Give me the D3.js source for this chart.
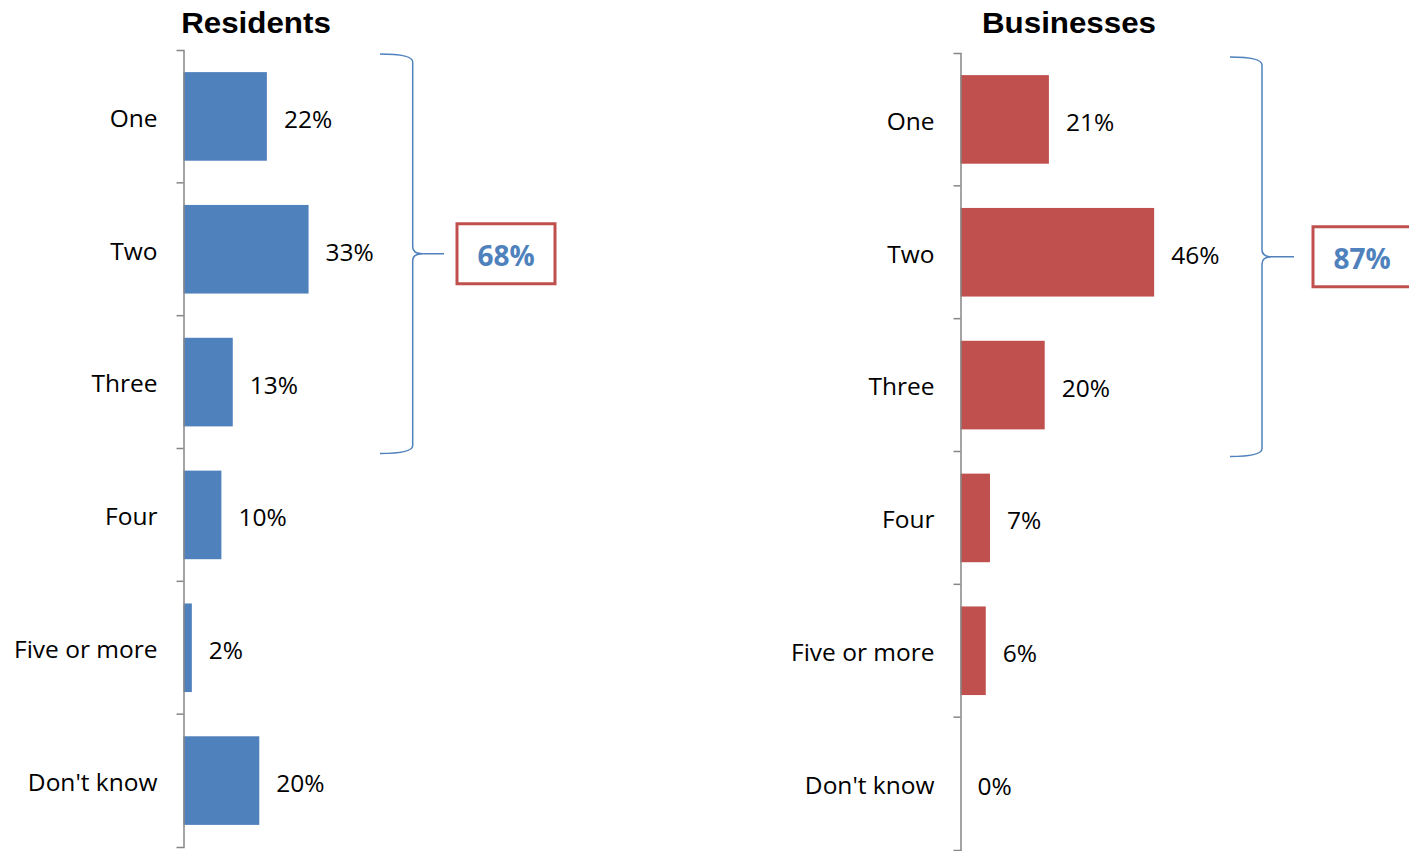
<!DOCTYPE html>
<html>
<head>
<meta charset="utf-8">
<script src="https://cdn.jsdelivr.net/npm/d3@7"></script>
<style>
  html, body { margin: 0; padding: 0; background: #fff; }
  svg { display: block; }
</style>
</head>
<body>
<svg id="chart" width="1409" height="851"></svg>
<script>
// ---- data ----
const categories = ["One", "Two", "Three", "Four", "Five or more", "Don't know"];
const residentsValues = [22, 33, 13, 10, 2.2, 20];
const residentsLabels = ["22%", "33%", "13%", "10%", "2%", "20%"];
const businessesValues = [21, 46, 20, 7, 6, 0];
const businessesLabels = ["21%", "46%", "20%", "7%", "6%", "0%"];
const panelTitles = ["Residents", "Businesses"];
const groupTotals = ["68%", "87%"];

// ---- layout ----
const svg = d3.select("#chart");
const panels = [
  { title: panelTitles[0], values: residentsValues, labels: residentsLabels, total: groupTotals[0],
    axisX: 183.5, yRange: [50, 847], pxPerPct: 3.79, color: "#4F81BD",
    titleX: 256, braceArm: 380, braceV: 412.7, braceTip: 444, boxX: 457 },
  { title: panelTitles[1], values: businessesValues, labels: businessesLabels, total: groupTotals[1],
    axisX: 960.5, yRange: [53, 850], pxPerPct: 4.21, color: "#C0504D",
    titleX: 1069, braceArm: 1230, braceV: 1262, braceTip: 1294, boxX: 1313 }
];

const labelFont = "'Open Sans', 'DejaVu Sans', sans-serif";
const labelSize = "24.5px";

panels.forEach(p => {
  const g = svg.append("g");
  const y = d3.scaleBand().domain(categories).range(p.yRange)
    .paddingInner(0.333).paddingOuter(0.1665);
  const x = d3.scaleLinear().domain([0, 100]).range([p.axisX, p.axisX + 100 * p.pxPerPct]);

  // title (slightly widened like the original)
  g.append("text")
    .attr("transform", `translate(${p.titleX},33) scale(1.08,1)`)
    .attr("text-anchor", "middle")
    .style("font-family", "'Liberation Sans', Arial, sans-serif")
    .style("font-weight", "bold")
    .style("font-size", "29px")
    .attr("fill", "#000")
    .text(p.title);

  // bars
  g.selectAll("rect.bar").data(p.values).enter().append("rect")
    .attr("class", "bar")
    .attr("x", x(0))
    .attr("y", (d, i) => y(categories[i]))
    .attr("width", d => x(d) - x(0))
    .attr("height", y.bandwidth())
    .attr("fill", p.color);

  // value labels
  g.selectAll("text.val").data(p.values).enter().append("text")
    .attr("class", "val")
    .attr("x", d => x(d) + 17)
    .attr("y", (d, i) => y(categories[i]) + y.bandwidth() / 2 + 2)
    .attr("dominant-baseline", "central")
    .style("font-family", labelFont)
    .style("font-size", labelSize)
    .attr("fill", "#000")
    .text((d, i) => p.labels[i]);

  // axis with category labels
  const axis = d3.axisLeft(y).tickSize(0).tickPadding(26).tickSizeOuter(7);
  const ag = g.append("g").attr("transform", `translate(${p.axisX},0)`).call(axis);
  ag.select(".domain").attr("stroke", "#868686").attr("stroke-width", 1.5);
  ag.selectAll(".tick text")
    .style("font-family", labelFont)
    .style("font-size", labelSize)
    .attr("fill", "#000")
    .attr("dy", "0.42em");

  // boundary ticks between categories
  const step = y.step();
  const bounds = categories.slice(1).map(c => y(c) - (step - y.bandwidth()) / 2);
  g.selectAll("line.btick").data(bounds).enter().append("line")
    .attr("x1", p.axisX - 7).attr("x2", p.axisX)
    .attr("y1", d => d).attr("y2", d => d)
    .attr("stroke", "#868686").attr("stroke-width", 1.5);

  // brace over first three categories
  const y0 = p.yRange[0] + 4;
  const y1 = y(categories[2]) + y.bandwidth() + (step - y.bandwidth()) / 2 + 5;
  const ym = (y0 + y1) / 2;
  const a = p.braceArm, v = p.braceV, t = p.braceTip;
  const path = `M${a},${y0} Q${v},${y0} ${v},${y0 + 8} L${v},${ym - 7} Q${v},${ym} ${v + 10},${ym} L${t},${ym}` +
               ` M${v + 10},${ym} Q${v},${ym} ${v},${ym + 7} L${v},${y1 - 8} Q${v},${y1} ${a},${y1}`;
  g.append("path").attr("d", path).attr("fill", "none")
    .attr("stroke", "#4F81BD").attr("stroke-width", 1.5);

  // total box
  g.append("rect")
    .attr("x", p.boxX).attr("y", ym - 30)
    .attr("width", 98).attr("height", 60)
    .attr("fill", "#fff").attr("stroke", "#C0504D").attr("stroke-width", 3);
  g.append("text")
    .attr("x", p.boxX + 49).attr("y", ym + 1)
    .attr("text-anchor", "middle").attr("dominant-baseline", "central")
    .style("font-family", labelFont)
    .style("font-weight", "bold")
    .style("font-size", "28px")
    .attr("fill", "#4F81BD")
    .text(p.total);
});
</script>
</body>
</html>
